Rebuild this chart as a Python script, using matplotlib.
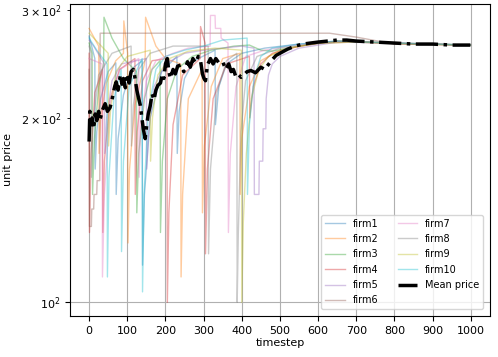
import matplotlib
matplotlib.use('Agg')
import matplotlib.pyplot as plt

# firm price paths (timestep, unit price)
firm1_t = [0, 15, 16, 20, 30, 50, 70, 71, 76, 90, 110, 139, 140, 145, 160, 190, 230, 231, 236, 250, 275, 330, 331, 340, 360, 400, 460, 550, 650, 800, 999]
firm1_p = [272, 250, 165, 190, 215, 238, 246, 150, 185, 218, 240, 248, 115, 150, 200, 238, 252, 175, 205, 232, 248, 258, 195, 225, 245, 255, 260, 264, 267, 265, 263]

firm2_t = [0, 25, 26, 30, 45, 70, 90, 91, 101, 102, 106, 120, 145, 147, 148, 175, 200, 240, 241, 245, 260, 296, 297, 302, 320, 350, 395, 396, 400, 420, 450, 500, 600, 700, 850, 999]
firm2_p = [280, 262, 175, 200, 228, 248, 255, 288, 255, 125, 165, 210, 245, 252, 292, 262, 250, 245, 110, 150, 215, 240, 140, 180, 225, 250, 255, 150, 185, 225, 248, 258, 265, 266, 264, 263]

firm3_t = [0, 8, 9, 14, 25, 38, 39, 60, 90, 124, 125, 130, 145, 165, 186, 187, 192, 205, 230, 270, 320, 380, 420, 450, 480, 550, 650, 800, 999]
firm3_p = [265, 255, 150, 185, 225, 245, 292, 270, 250, 238, 140, 175, 215, 240, 248, 130, 170, 215, 240, 252, 258, 262, 263, 258, 257, 262, 267, 265, 263]

firm4_t = [0, 1, 5, 15, 35, 36, 40, 55, 80, 120, 121, 126, 140, 165, 204, 205, 209, 220, 245, 291, 292, 304, 305, 310, 325, 360, 420, 421, 430, 450, 480, 550, 650, 800, 999]
firm4_p = [255, 130, 175, 220, 240, 130, 170, 215, 240, 250, 150, 190, 230, 248, 250, 100, 140, 195, 235, 250, 282, 265, 120, 165, 215, 245, 252, 200, 225, 245, 255, 262, 267, 265, 263]

firm5_t = [0, 12, 40, 41, 46, 60, 85, 150, 151, 156, 170, 200, 250, 300, 350, 400, 432, 433, 445, 446, 455, 456, 463, 464, 470, 480, 500, 550, 650, 800, 999]
firm5_p = [268, 262, 245, 175, 200, 230, 245, 250, 165, 190, 225, 245, 255, 258, 260, 262, 260, 150, 150, 170, 170, 192, 192, 215, 235, 245, 252, 260, 266, 265, 263]

firm6_t = [0, 1, 6, 7, 12, 13, 20, 21, 28, 29, 630, 700, 800, 999]
firm6_p = [240, 133, 133, 142, 142, 150, 150, 158, 158, 275, 275, 271, 264, 263]

firm7_t = [0, 34, 35, 40, 55, 80, 130, 131, 135, 150, 175, 220, 260, 317, 318, 330, 331, 345, 346, 364, 365, 370, 385, 410, 460, 520, 600, 700, 850, 999]
firm7_p = [250, 245, 110, 150, 210, 240, 250, 160, 195, 230, 248, 255, 260, 262, 294, 294, 280, 280, 270, 265, 130, 175, 225, 252, 258, 262, 266, 266, 264, 263]

firm8_t = [0, 5, 6, 10, 25, 60, 110, 111, 116, 130, 160, 220, 312, 313, 318, 335, 360, 387, 388, 391, 398, 410, 440, 500, 600, 700, 850, 999]
firm8_p = [262, 255, 160, 195, 235, 255, 262, 180, 210, 240, 255, 262, 262, 120, 165, 220, 248, 255, 100, 130, 190, 230, 252, 260, 265, 266, 264, 263]

firm9_t = [0, 50, 51, 56, 70, 100, 160, 161, 166, 180, 210, 260, 330, 399, 400, 404, 412, 425, 445, 470, 520, 600, 700, 850, 999]
firm9_p = [275, 255, 180, 205, 238, 252, 258, 170, 200, 235, 250, 257, 260, 258, 100, 135, 175, 215, 240, 252, 260, 265, 266, 264, 263]

firm10_t = [0, 20, 47, 48, 52, 65, 84, 85, 90, 105, 139, 140, 144, 155, 175, 200, 250, 300, 350, 414, 415, 420, 432, 450, 480, 550, 650, 800, 999]
firm10_p = [270, 258, 245, 110, 160, 215, 240, 121, 170, 225, 250, 104, 150, 205, 240, 252, 258, 262, 268, 270, 150, 195, 232, 252, 260, 264, 267, 265, 263]

mean_t = [0, 2, 4, 8, 12, 16, 20, 25, 29, 35, 42, 48, 55, 60, 63, 67, 71, 76, 82, 86, 90, 95, 100, 105, 110, 116, 120, 125, 130, 134, 137, 142, 147, 151, 155, 160, 165, 170, 175, 180, 187, 192, 196, 200, 205, 209, 213, 220, 226, 232, 240, 248, 258, 265, 272, 279, 286, 292, 297, 301, 305, 310, 318, 325, 332, 340, 350, 358, 366, 372, 378, 384, 390, 398, 405, 414, 424, 436, 450, 460, 471, 480, 490, 500, 520, 540, 560, 580, 600, 625, 650, 675, 700, 750, 800, 850, 900, 950, 999]
mean_p = [183, 205, 195, 200, 192, 203, 198, 205, 199, 206, 211, 205, 208, 214, 219, 225, 229, 222, 235, 227, 232, 224, 236, 228, 238, 240, 233, 222, 215, 210, 203, 192, 185, 195, 203, 209, 219, 214, 222, 226, 228, 236, 232, 245, 250, 238, 232, 240, 236, 243, 244, 238, 247, 242, 250, 246, 252, 248, 236, 232, 230, 244, 250, 245, 250, 246, 247, 240, 245, 238, 240, 234, 236, 233, 235, 238, 239, 237, 242, 240, 245, 249, 253, 255, 259, 262, 264, 265, 266, 267, 268, 268, 267, 266, 265, 264, 264, 263, 263]

firms = [(firm1_t, firm1_p), (firm2_t, firm2_p), (firm3_t, firm3_p), (firm4_t, firm4_p),
         (firm5_t, firm5_p), (firm6_t, firm6_p), (firm7_t, firm7_p), (firm8_t, firm8_p),
         (firm9_t, firm9_p), (firm10_t, firm10_p)]

plt.rcParams['font.size'] = 8
fig = plt.figure(figsize=(4.98, 3.57), dpi=100)
ax = fig.add_axes([0.1406, 0.115, 0.843, 0.874])

for i, (t, p) in enumerate(firms):
    ax.plot(t, p, color='C%d' % i, alpha=0.4, lw=1.0, label='firm%d' % (i + 1))
ax.plot(mean_t, mean_p, color='black', ls='-.', lw=2.5, label='Mean price')

ax.set_yscale('log')
ax.set_xlim(-50, 1050)
ax.set_ylim(95, 307)
ax.set_xticks(range(0, 1001, 100))
ax.grid(True)
ax.set_xlabel('timestep', labelpad=2)
ax.set_ylabel('unit price', labelpad=6)
ax.legend(loc='lower right', ncol=2, fontsize=7, borderaxespad=0.7,
          columnspacing=2.0, labelspacing=0.55)

plt.savefig('out.png')
